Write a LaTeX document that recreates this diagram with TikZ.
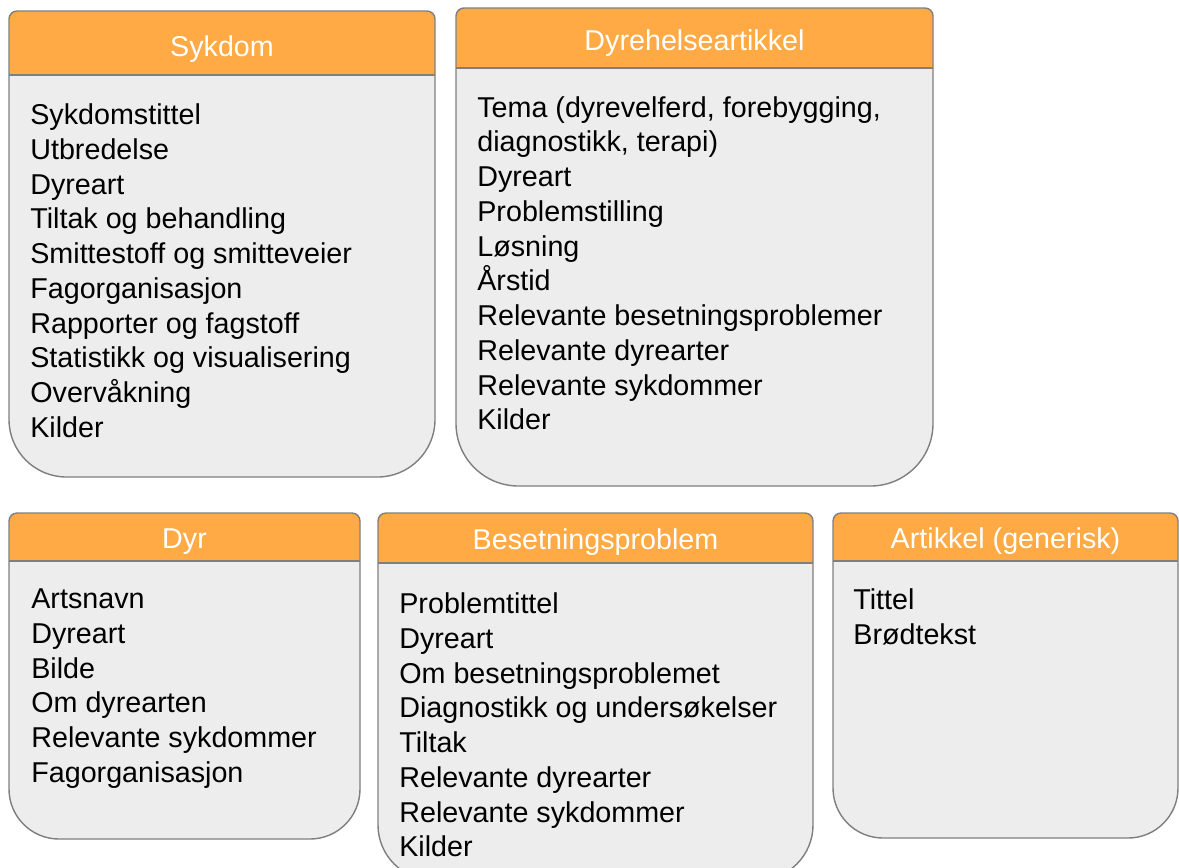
\documentclass[tikz,border=0pt]{standalone}
\usepackage{fontspec}
\setmainfont{Liberation Sans}
\definecolor{hdr}{HTML}{FFAA44}
\definecolor{bdy}{HTML}{EDEDED}
\definecolor{edge}{HTML}{7F7F7F}

\begin{document}
\begin{tikzpicture}[x=0.02cm, y=-0.02cm,
    boxline/.style={draw=edge, line width=0.8pt},
    title/.style={anchor=base, text=white, inner sep=0pt, font=\fontsize{16.33}{19.77}\selectfont},
    items/.style={anchor=north west, align=left, inner sep=0pt, font=\fontsize{16.33}{19.77}\selectfont}]
    \useasboundingbox (0,0) rectangle (1179,867);
    \clip (0,0) rectangle (1179,867);

    % Sykdom
    \path[fill=bdy] (9,40) [rounded corners=0.16cm] -- (9,11) -- (435,11) -- (435,40) [rounded corners=1.15cm] -- (435,477) -- (9,477) -- (9,40);
    \path[fill=hdr] (9,40) [rounded corners=0.16cm] -- (9,11) -- (435,11) -- (435,40) [sharp corners] -- (435,75) -- (9,75) -- (9,40);
    \draw[boxline] (9,40) [rounded corners=0.16cm] -- (9,11) -- (435,11) -- (435,40) [rounded corners=1.15cm] -- (435,477) -- (9,477) -- (9,40);
    \draw[boxline] (9,75) -- (435,75);
    \node[title] (sykdom) at (222,56) {Sykdom};
    \node[items] (sykdomitems) at (30,103.5) {Sykdomstittel\\Utbredelse\\Dyreart\\Tiltak og behandling\\Smittestoff og smitteveier\\Fagorganisasjon\\Rapporter og fagstoff\\Statistikk og visualisering\\Overvåkning\\Kilder};

    % Dyrehelseartikkel
    \path[fill=bdy] (456,40) [rounded corners=0.16cm] -- (456,8) -- (933,8) -- (933,40) [rounded corners=1.25cm] -- (933,486) -- (456,486) -- (456,40);
    \path[fill=hdr] (456,40) [rounded corners=0.16cm] -- (456,8) -- (933,8) -- (933,40) [sharp corners] -- (933,68) -- (456,68) -- (456,40);
    \draw[boxline] (456,40) [rounded corners=0.16cm] -- (456,8) -- (933,8) -- (933,40) [rounded corners=1.25cm] -- (933,486) -- (456,486) -- (456,40);
    \draw[boxline] (456,68) -- (933,68);
    \node[title] (artikkel) at (694.5,50) {Dyrehelseartikkel};
    \node[items] (artikkelitems) at (477,96) {Tema (dyrevelferd, forebygging,\\diagnostikk, terapi)\\Dyreart\\Problemstilling\\Løsning\\Årstid\\Relevante besetningsproblemer\\Relevante dyrearter\\Relevante sykdommer\\Kilder};

    % Dyr
    \path[fill=bdy] (9,530) [rounded corners=0.16cm] -- (9,513) -- (360,513) -- (360,530) [rounded corners=1cm] -- (360,839) -- (9,839) -- (9,530);
    \path[fill=hdr] (9,530) [rounded corners=0.16cm] -- (9,513) -- (360,513) -- (360,530) [sharp corners] -- (360,561) -- (9,561) -- (9,530);
    \draw[boxline] (9,530) [rounded corners=0.16cm] -- (9,513) -- (360,513) -- (360,530) [rounded corners=1cm] -- (360,839) -- (9,839) -- (9,530);
    \draw[boxline] (9,561) -- (360,561);
    \node[title] (dyr) at (184.5,548) {Dyr};
    \node[items] (dyritems) at (31,588.5) {Artsnavn\\Dyreart\\Bilde\\Om dyrearten\\Relevante sykdommer\\Fagorganisasjon};

    % Besetningsproblem
    \path[fill=bdy] (378,530) [rounded corners=0.16cm] -- (378,513) -- (813,513) -- (813,530) [rounded corners=1.1cm] -- (813,880) -- (378,880) -- (378,530);
    \path[fill=hdr] (378,530) [rounded corners=0.16cm] -- (378,513) -- (813,513) -- (813,530) [sharp corners] -- (813,563) -- (378,563) -- (378,530);
    \draw[boxline] (378,530) [rounded corners=0.16cm] -- (378,513) -- (813,513) -- (813,530) [rounded corners=1.1cm] -- (813,880) -- (378,880) -- (378,530);
    \draw[boxline] (378,563) -- (813,563);
    \node[title] (besetning) at (595.5,549) {Besetningsproblem};
    \node[items] (besetningitems) at (399,592.5) {Problemtittel\\Dyreart\\Om besetningsproblemet\\Diagnostikk og undersøkelser\\Tiltak\\Relevante dyrearter\\Relevante sykdommer\\Kilder};

    % Artikkel (generisk)
    \path[fill=bdy] (833,530) [rounded corners=0.16cm] -- (833,513) -- (1178,513) -- (1178,530) [rounded corners=1cm] -- (1178,838) -- (833,838) -- (833,530);
    \path[fill=hdr] (833,530) [rounded corners=0.16cm] -- (833,513) -- (1178,513) -- (1178,530) [sharp corners] -- (1178,561) -- (833,561) -- (833,530);
    \draw[boxline] (833,530) [rounded corners=0.16cm] -- (833,513) -- (1178,513) -- (1178,530) [rounded corners=1cm] -- (1178,838) -- (833,838) -- (833,530);
    \draw[boxline] (833,561) -- (1178,561);
    \node[title] (generisk) at (1005.5,548) {Artikkel (generisk)};
    \node[items] (generiskitems) at (853,588.5) {Tittel\\Brødtekst};
\end{tikzpicture}
\end{document}
